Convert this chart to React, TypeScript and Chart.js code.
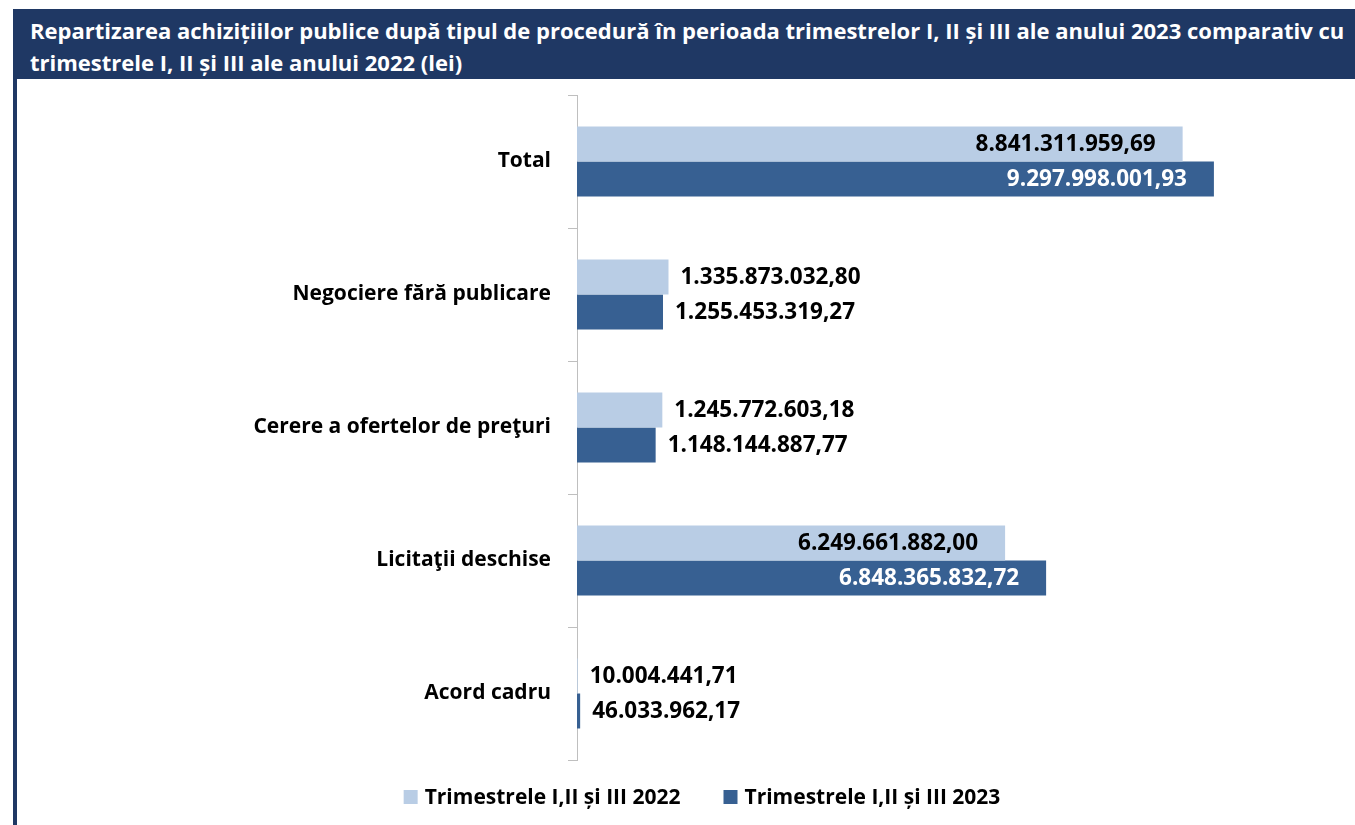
import React, { useEffect, useRef } from "react";
import { Chart, registerables } from "chart.js";

Chart.register(...registerables);

const categories = [
  "Total",
  "Negociere fără publicare",
  "Cerere a ofertelor de preţuri",
  "Licitaţii deschise",
  "Acord cadru",
];
const series2022 = [8841311959.69, 1335873032.8, 1245772603.18, 6249661882.0, 10004441.71];
const series2023 = [9297998001.93, 1255453319.27, 1148144887.77, 6848365832.72, 46033962.17];
const seriesNames = ["Trimestrele I,II și III 2022", "Trimestrele I,II și III 2023"];
const xMax = 10000000000;

const TITLE =
  "Repartizarea achizițiilor publice după tipul de procedură în perioada trimestrelor I, II și III ale anului 2023 comparativ cu trimestrele I, II și III ale anului 2022 (lei)";

const NAVY = "#1F3864";
const LIGHT = "#B9CDE5";
const DARK = "#376092";
const FONT = "'Open Sans', sans-serif";

function fmt(v: number): string {
  const fixed = v.toFixed(2);
  const [intPart, dec] = fixed.split(".");
  const withDots = intPart.replace(/\B(?=(\d{3})+(?!\d))/g, ".");
  return withDots + "," + dec;
}

const valueLabels = {
  id: "valueLabels",
  afterDatasetsDraw(chart: any) {
    const ctx = chart.ctx;
    ctx.save();
    ctx.font = `bold 22.5px ${FONT}`;
    ctx.textBaseline = "middle";
    chart.data.datasets.forEach((ds: any, di: number) => {
      const meta = chart.getDatasetMeta(di);
      meta.data.forEach((bar: any, i: number) => {
        const text = fmt(ds.data[i]);
        const w = ctx.measureText(text).width;
        const barLen = bar.x - bar.base;
        if (barLen > w + 60) {
          ctx.textAlign = "right";
          ctx.fillStyle = di === 0 ? "#000000" : "#FFFFFF";
          ctx.fillText(text, bar.x - 27, bar.y + 1);
        } else {
          ctx.textAlign = "left";
          ctx.fillStyle = "#000000";
          ctx.fillText(text, bar.x + 12, bar.y + 1);
        }
      });
    });
    ctx.restore();
  },
};

const customLegend = {
  id: "customLegend",
  afterDraw(chart: any) {
    const ctx = chart.ctx;
    ctx.save();
    ctx.font = `bold 21px ${FONT}`;
    ctx.textBaseline = "middle";
    ctx.textAlign = "left";
    const box = 14;
    const gapText = 7;
    const gapItems = 43;
    const items = chart.data.datasets.map((ds: any) => ({
      text: ds.label,
      color: ds.backgroundColor,
      w: ctx.measureText(ds.label).width,
    }));
    const total =
      items.reduce((s: number, it: any) => s + box + gapText + it.w, 0) + gapItems * (items.length - 1);
    let x = chart.width / 2 + 16 - total / 2;
    const y = chart.chartArea.bottom + 37;
    items.forEach((it: any) => {
      ctx.fillStyle = it.color;
      ctx.fillRect(x, y - box / 2, box, box);
      x += box + gapText;
      ctx.fillStyle = "#000000";
      ctx.fillText(it.text, x, y + 1);
      x += it.w + gapItems;
    });
    ctx.restore();
  },
};

export default function App() {
  const canvasRef = useRef<HTMLCanvasElement | null>(null);

  useEffect(() => {
    document.body.style.margin = "0";
    document.body.style.overflow = "hidden";
    if (!canvasRef.current) return;
    const chart = new Chart(canvasRef.current, {
      type: "bar",
      data: {
        labels: categories,
        datasets: [
          {
            label: seriesNames[0],
            data: series2022,
            backgroundColor: LIGHT,
            borderWidth: 0,
            categoryPercentage: 0.526,
            barPercentage: 1,
          },
          {
            label: seriesNames[1],
            data: series2023,
            backgroundColor: DARK,
            borderWidth: 0,
            categoryPercentage: 0.526,
            barPercentage: 1,
          },
        ],
      },
      options: {
        indexAxis: "y",
        responsive: false,
        animation: false,
        layout: { padding: { top: 15, right: 93, bottom: 65, left: 0 } },
        plugins: {
          legend: { display: false },
          tooltip: { enabled: false },
          title: { display: false },
        },
        scales: {
          x: {
            display: false,
            min: 0,
            max: xMax,
          },
          y: {
            afterFit(scale: any) {
              scale.width = 560;
              scale.paddingTop = 0;
              scale.paddingBottom = 0;
            },
            grid: {
              drawOnChartArea: false,
              drawTicks: true,
              tickLength: 9,
              color: "#BFBFBF",
              offset: true,
            },
            border: { display: true, color: "#BFBFBF", width: 1 },
            ticks: {
              padding: 17,
              color: "#000000",
              font: { family: FONT, size: 21, weight: "bold" },
            },
          },
        },
      },
      plugins: [valueLabels, customLegend],
    });
    return () => chart.destroy();
  }, []);

  return (
    <div style={{ position: "relative", width: 1355, height: 825, overflow: "hidden", background: "#fff" }}>
      <div
        style={{
          position: "absolute",
          left: 13,
          top: 9,
          width: 1342,
          height: 70,
          background: NAVY,
        }}
      />
      <div
        style={{
          position: "absolute",
          left: 30,
          top: 14,
          width: 1325,
          color: "#FFFFFF",
          fontFamily: FONT,
          fontWeight: "bold",
          fontSize: 22,
          lineHeight: "32px",
          whiteSpace: "normal",
        }}
      >
        {TITLE}
      </div>
      <div
        style={{
          position: "absolute",
          left: 13,
          top: 9,
          width: 4,
          height: 816,
          background: NAVY,
        }}
      />
      <div style={{ position: "absolute", left: 17, top: 80, width: 1338, height: 745 }}>
        <canvas ref={canvasRef} width={1338} height={745} />
      </div>
    </div>
  );
}
